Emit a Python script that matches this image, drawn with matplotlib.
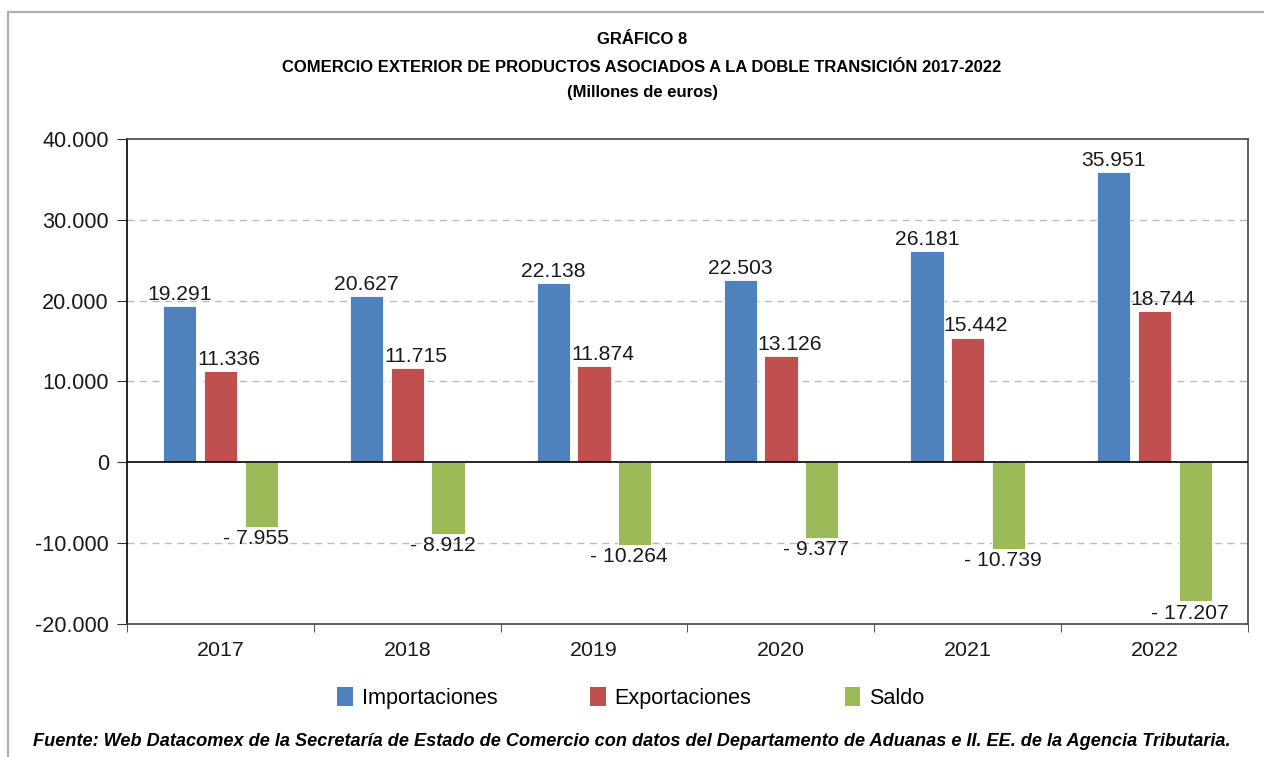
import numpy as np
import matplotlib
matplotlib.use("Agg")
import matplotlib.pyplot as plt
from matplotlib.lines import Line2D
from matplotlib.patches import Patch

# Data (millones de euros)
years = ["2017", "2018", "2019", "2020", "2021", "2022"]
importaciones = [19291, 20627, 22138, 22503, 26181, 35951]
exportaciones = [11336, 11715, 11874, 13126, 15442, 18744]
saldo = [-7955, -8912, -10264, -9377, -10739, -17207]
series_names = ["Importaciones", "Exportaciones", "Saldo"]
yticks = [-20000, -10000, 0, 10000, 20000, 30000, 40000]

colors = ["#4F81BD", "#C0504D", "#9BBB59"]
plt.rcParams['font.family'] = ['Liberation Sans', 'DejaVu Sans']


def fmt(v):
    s = f"{abs(v):,}".replace(",", ".")
    return s if v >= 0 else "- " + s


fig = plt.figure(figsize=(12.64, 7.57), dpi=100)
ax = fig.add_axes([127 / 1264, 1 - 624 / 757, (1248 - 127) / 1264, (624 - 139) / 757])

x = np.arange(len(years))
w = 0.178
step = 0.218
label_dx = [0, 6, -4]  # points
for i, (vals, c) in enumerate(zip([importaciones, exportaciones, saldo], colors)):
    pos = x + (i - 1) * step
    bars = ax.bar(pos, vals, width=w, color=c, edgecolor="white", linewidth=0.6, zorder=3)
    for b, v in zip(bars, vals):
        yoff = 1.5 if v >= 0 else -1.5
        ax.annotate(fmt(v), (b.get_x() + b.get_width() / 2, v),
                    xytext=(label_dx[i], yoff), textcoords="offset points",
                    ha="center", va="bottom" if v >= 0 else "top",
                    fontsize=15.2, color="#1a1a1a", zorder=4)

ax.set_xlim(-0.5, len(years) - 0.5)
ax.set_ylim(-20000, 40000)
ax.set_yticks(yticks)
ax.set_yticklabels([fmt(t).replace("- ", "-") for t in yticks], fontsize=15.6, color="#1a1a1a")
ax.set_xticks(x)
ax.set_xticklabels(years, fontsize=15.4, color="#1a1a1a")
ax.set_xticks(np.arange(-0.5, len(years)), minor=True)
ax.tick_params(axis="x", which="major", length=0, pad=12)
ax.tick_params(axis="x", which="minor", length=6, direction="out", color="#333333")
ax.tick_params(axis="y", length=7, direction="out", color="#333333", pad=6)

for t in [-10000, 10000, 20000, 30000]:
    ax.axhline(t, color="#bbbbbb", linestyle=(0, (5, 4)), linewidth=1, zorder=1)
ax.axhline(0, color="black", linewidth=1.2, zorder=4)

for s in ["top", "right", "bottom"]:
    ax.spines[s].set_color("#444444")
    ax.spines[s].set_linewidth(1.2)
ax.spines["left"].set_color("black")
ax.spines["left"].set_linewidth(1.2)

# Titles
for ty, txt in [(40, "GRÁFICO 8"),
                (67, "COMERCIO EXTERIOR DE PRODUCTOS ASOCIADOS A LA DOBLE TRANSICIÓN 2017-2022"),
                (93, "(Millones de euros)")]:
    fig.text(0.508, 1 - ty / 757, txt, ha="center", va="center",
             fontsize=12, fontweight="bold")

# Legend
handles = [Patch(facecolor=c, edgecolor="none") for c in colors]
fig.legend(handles, series_names, loc="center", bbox_to_anchor=(0.499, 1 - 698 / 757),
           ncol=3, frameon=False, fontsize=15.6, handlelength=0.72, handleheight=1.0,
           handletextpad=0.4, columnspacing=4.3)

# Source
fig.text(33 / 1264, 1 - 741 / 757,
         "Fuente: Web Datacomex de la Secretaría de Estado de Comercio con datos del "
         "Departamento de Aduanas e II. EE. de la Agencia Tributaria.",
         ha="left", va="center", fontsize=13.1, fontweight="bold", style="italic")

# Outer frame
fig.add_artist(Line2D([8 / 1264, 8 / 1264], [0, 1 - 12 / 757], transform=fig.transFigure,
                      color="#b0b0b0", linewidth=1.6))
fig.add_artist(Line2D([8 / 1264, 1], [1 - 12 / 757, 1 - 12 / 757], transform=fig.transFigure,
                      color="#b0b0b0", linewidth=1.6))

fig.savefig("out.png", dpi=100)
